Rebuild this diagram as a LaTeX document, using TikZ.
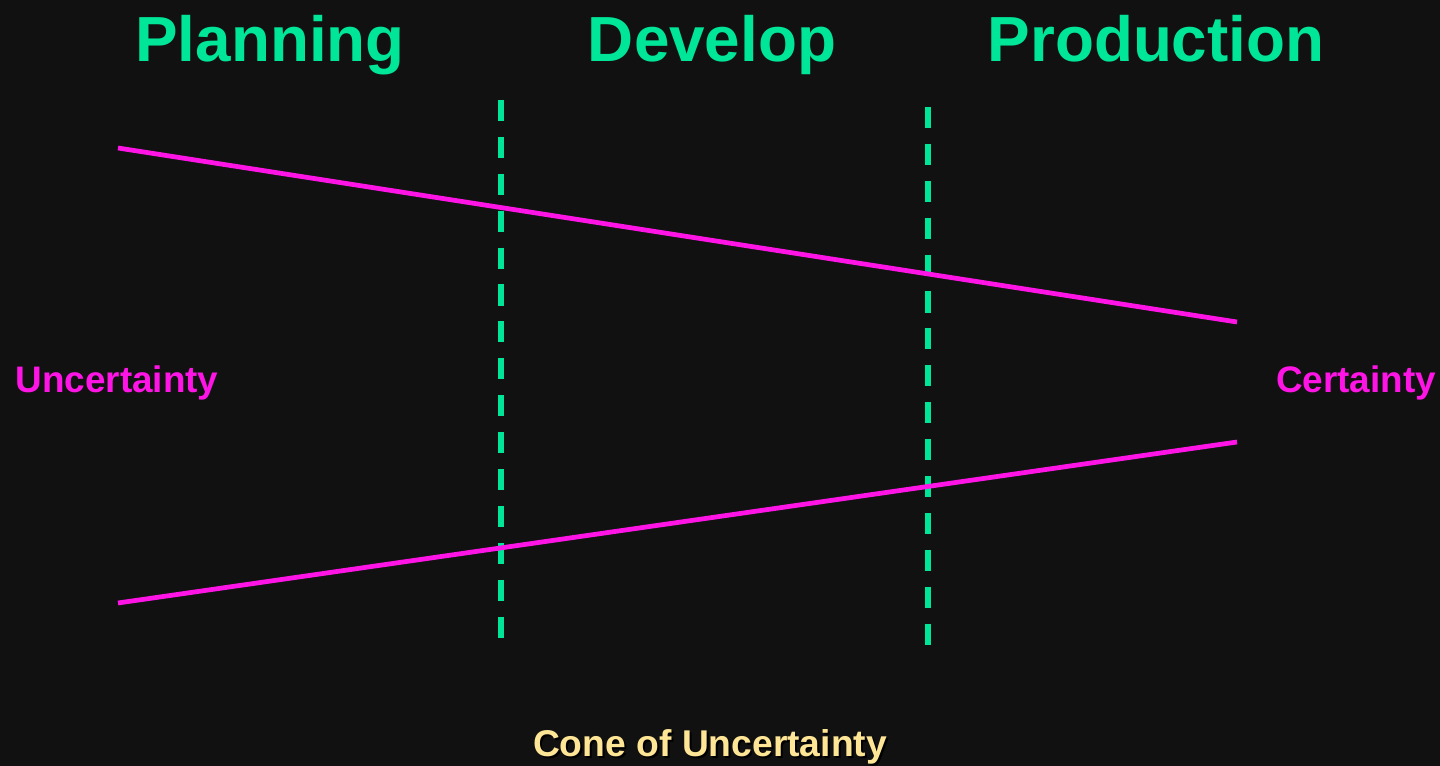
\documentclass[tikz,border=0pt]{standalone}
\usepackage{fontspec}
\setmainfont{Liberation Sans}
\usepackage{xcolor}
\usepackage{tikz}
\usetikzlibrary{positioning,calc,backgrounds}
\definecolor{bgdark}{RGB}{17,17,17}
\definecolor{phasegreen}{RGB}{0,230,152}
\definecolor{conepink}{RGB}{255,20,230}
\definecolor{titlecream}{RGB}{255,230,150}

\begin{document}
\begin{tikzpicture}[x=0.02cm, y=-0.02cm,
  phase/.style={text=phasegreen, font=\fontsize{36.3}{40}\selectfont\bfseries, anchor=base, inner sep=0pt},
  side/.style={text=conepink, font=\fontsize{21}{24}\selectfont\bfseries, anchor=base, inner sep=0pt},
  divider/.style={draw=phasegreen, line width=3.2pt, dash pattern=on 12pt off 9pt},
  edge/.style={draw=conepink, line width=2.7pt}]
\fill[bgdark] (0,0) rectangle (1440,766);
\useasboundingbox (0,0) rectangle (1440,766);
\node[phase] (plan) at (270,62) {Planning};
\node[phase] (dev) at (712,62) {Develop};
\node[phase] (prod) at (1156,62) {Production};
\node[side] (unc) at (117,393) {Uncertainty};
\node[side] (cert) at (1356,393) {Certainty};
\node[text=black, font=\fontsize{21.2}{24}\selectfont\bfseries, anchor=base, inner sep=0pt] (titleshadow) at (712,758) {Cone of Uncertainty};
\node[text=titlecream, font=\fontsize{21.2}{24}\selectfont\bfseries, anchor=base, inner sep=0pt] (title) at (710,756) {Cone of Uncertainty};
\coordinate (d1top) at (501,100);
\coordinate (d1bot) at (501,645);
\coordinate (d2top) at (928,107);
\coordinate (d2bot) at (928,651);
\coordinate (uplft) at (118,148);
\coordinate (uprgt) at (1237,322);
\coordinate (lolft) at (118,603);
\coordinate (lorgt) at (1237,442);
\draw[divider] (d1top) -- (d1bot);
\draw[divider] (d2top) -- (d2bot);
\draw[edge] (uplft) -- (uprgt);
\draw[edge] (lolft) -- (lorgt);
\end{tikzpicture}
\end{document}
